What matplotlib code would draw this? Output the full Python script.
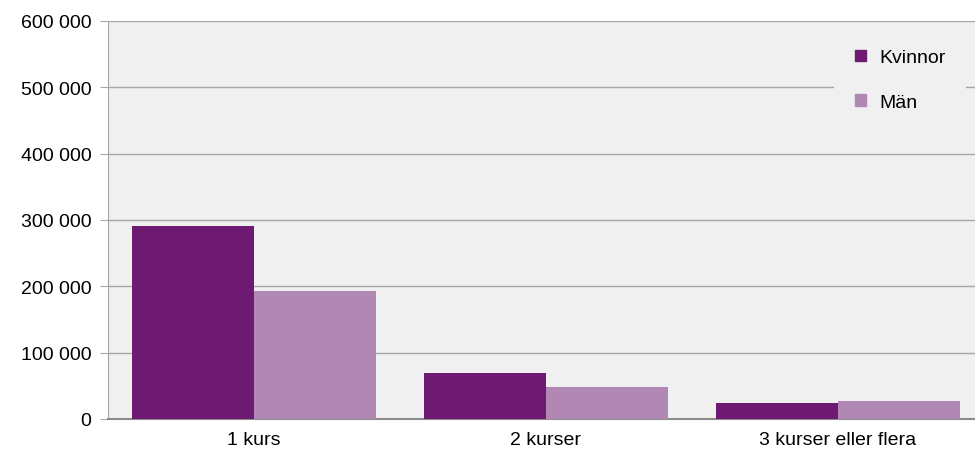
import matplotlib.pyplot as plt
import numpy as np
from matplotlib.patches import Patch
from matplotlib.ticker import FuncFormatter

plt.rcParams['font.family'] = ['Liberation Sans', 'DejaVu Sans']

# data
categories = ['1 kurs', '2 kurser', '3 kurser eller flera']
kvinnor = [291000, 69500, 23500]
man = [193000, 48500, 26500]
series_names = ['Kvinnor', 'Män']

C_KVINNOR = '#6f1a72'
C_MAN = '#b088b3'
GRID = '#a6a6a6'
FS = 14

fig = plt.figure(figsize=(9.75, 4.52), dpi=100)
# axes run slightly past the right edge, as in the reference
ax = fig.add_axes([108 / 975, 32 / 452, 876 / 975, 398 / 452])
ax.set_facecolor('#f0f0f0')

x = np.arange(len(categories))
w = 0.418
ax.bar(x - w / 2, kvinnor, w, color=C_KVINNOR, zorder=3)
ax.bar(x + w / 2, man, w, color=C_MAN, zorder=3)

ax.set_xlim(-0.5, len(categories) - 0.5)
ax.set_ylim(0, 600000)
ax.set_yticks(np.arange(0, 600001, 100000))
ax.yaxis.set_major_formatter(FuncFormatter(lambda v, p: f'{int(v):,}'.replace(',', ' ')))
ax.set_xticks(x)
ax.set_xticklabels(categories)

ax.grid(axis='y', color=GRID, linewidth=1, zorder=0)
ax.set_axisbelow(True)
for s in ['top', 'right']:
    ax.spines[s].set_visible(False)
ax.spines['left'].set_color(GRID)
ax.spines['bottom'].set_color('#8c8c8c')
ax.spines['bottom'].set_linewidth(1.5)

ax.tick_params(axis='y', length=6, color=GRID, labelsize=FS, pad=6)
ax.tick_params(axis='x', length=0, labelsize=FS, pad=9)

handles = [Patch(color=C_KVINNOR), Patch(color=C_MAN)]
leg = fig.legend(handles, series_names, loc='upper right',
                 bbox_to_anchor=(966 / 975, 1 - 30 / 452),
                 bbox_transform=fig.transFigure,
                 fontsize=FS, handlelength=0.55, handleheight=0.55,
                 handletextpad=0.7, labelspacing=1.4, borderpad=1.05,
                 frameon=True, fancybox=False, borderaxespad=0)
leg.get_frame().set_facecolor('#f0f0f0')
leg.get_frame().set_edgecolor('none')
leg.get_frame().set_alpha(1)

fig.savefig('out.png', dpi=100)
